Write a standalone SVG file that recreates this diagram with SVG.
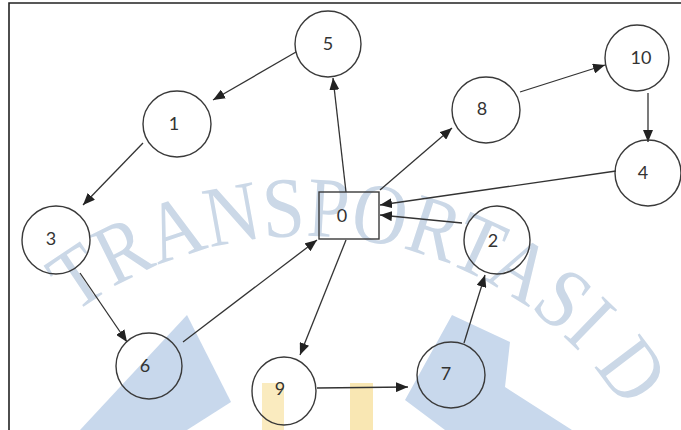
<svg xmlns="http://www.w3.org/2000/svg" width="681" height="430" viewBox="0 0 681 430">
  <defs>
    <style>
      .node { fill: none; stroke: #3a3a3a; stroke-width: 1.4; }
      .lbl { font-family: Lato, "Open Sans", "Liberation Sans", sans-serif; font-size: 18px; fill: #333; text-anchor: middle; dominant-baseline: central; }
      .edge { stroke: #333; stroke-width: 1.3; fill: none; marker-end: url(#arr); }
      .wm { font-family: "Liberation Serif", "DejaVu Serif", serif; font-size: 86px; fill: #cbd8e7; }
    </style>
    <marker id="arr" markerUnits="userSpaceOnUse" markerWidth="13" markerHeight="10" refX="12" refY="5" orient="auto">
      <path d="M0,0 L12,5 L0,10 z" fill="#222"/>
    </marker>
    <path id="wmArc" d="M35,348 A382,382 0 0 1 664,487"/>
  </defs>
  <rect width="681" height="430" fill="#fff"/>
  <g id="watermark">
    <polygon points="187,315 231,402 187,430 80,430" fill="#c8d8ec"/>
    <polygon points="452,315 510,342 505,387 572,430 445,430 405,400" fill="#c8d8ec"/>
    <rect x="262" y="383" width="22" height="47" fill="#faebbf"/>
    <rect x="350" y="383" width="23" height="47" fill="#f9e7b3"/>
    <text class="wm"><textPath href="#wmArc" startOffset="52" textLength="628" lengthAdjust="spacingAndGlyphs">TRANSPORTASI D</textPath></text>
  </g>
  <path d="M9,440 V3 H690" fill="none" stroke="#222" stroke-width="1.6"/>
  <g id="connectors">
    <line class="edge" x1="296" y1="52" x2="213" y2="100"/>
    <line class="edge" x1="143" y1="143" x2="83" y2="205"/>
    <line class="edge" x1="80" y1="273" x2="127" y2="342"/>
    <line class="edge" x1="183" y1="342" x2="317" y2="240"/>
    <line class="edge" x1="346" y1="192" x2="333" y2="78"/>
    <line class="edge" x1="380" y1="190" x2="452" y2="128"/>
    <line class="edge" x1="520" y1="92" x2="605" y2="65"/>
    <line class="edge" x1="648" y1="93" x2="648" y2="142"/>
    <line class="edge" x1="616" y1="171" x2="380" y2="205"/>
    <line class="edge" x1="462" y1="223" x2="380" y2="215"/>
    <line class="edge" x1="346" y1="240" x2="300" y2="355"/>
    <line class="edge" x1="317" y1="388" x2="408" y2="387"/>
    <line class="edge" x1="464" y1="343" x2="485" y2="275"/>
  </g>
  <g id="n0"><rect class="node" x="319" y="192" width="60" height="47"/><text class="lbl" x="342" y="215">0</text></g>
  <g id="n1"><ellipse class="node" cx="177" cy="124" rx="34" ry="33"/><text class="lbl" x="174" y="123">1</text></g>
  <g id="n2"><ellipse class="node" cx="497" cy="240" rx="33" ry="34"/><text class="lbl" x="493" y="240">2</text></g>
  <g id="n3"><ellipse class="node" cx="56" cy="240" rx="34" ry="34"/><text class="lbl" x="51" y="238">3</text></g>
  <g id="n4"><ellipse class="node" cx="648" cy="173" rx="33" ry="33"/><text class="lbl" x="643" y="172">4</text></g>
  <g id="n5"><ellipse class="node" cx="328" cy="44" rx="33" ry="33"/><text class="lbl" x="328" y="43">5</text></g>
  <g id="n6"><ellipse class="node" cx="149" cy="366" rx="33" ry="33"/><text class="lbl" x="145" y="365">6</text></g>
  <g id="n7"><ellipse class="node" cx="451" cy="375" rx="34" ry="33"/><text class="lbl" x="446" y="373">7</text></g>
  <g id="n8"><ellipse class="node" cx="486" cy="110" rx="34" ry="33"/><text class="lbl" x="482" y="108">8</text></g>
  <g id="n9"><ellipse class="node" cx="284" cy="391" rx="32" ry="34"/><text class="lbl" x="280" y="388">9</text></g>
  <g id="n10"><ellipse class="node" cx="637" cy="58" rx="32" ry="33"/><text class="lbl" x="641" y="57">10</text></g>
</svg>
